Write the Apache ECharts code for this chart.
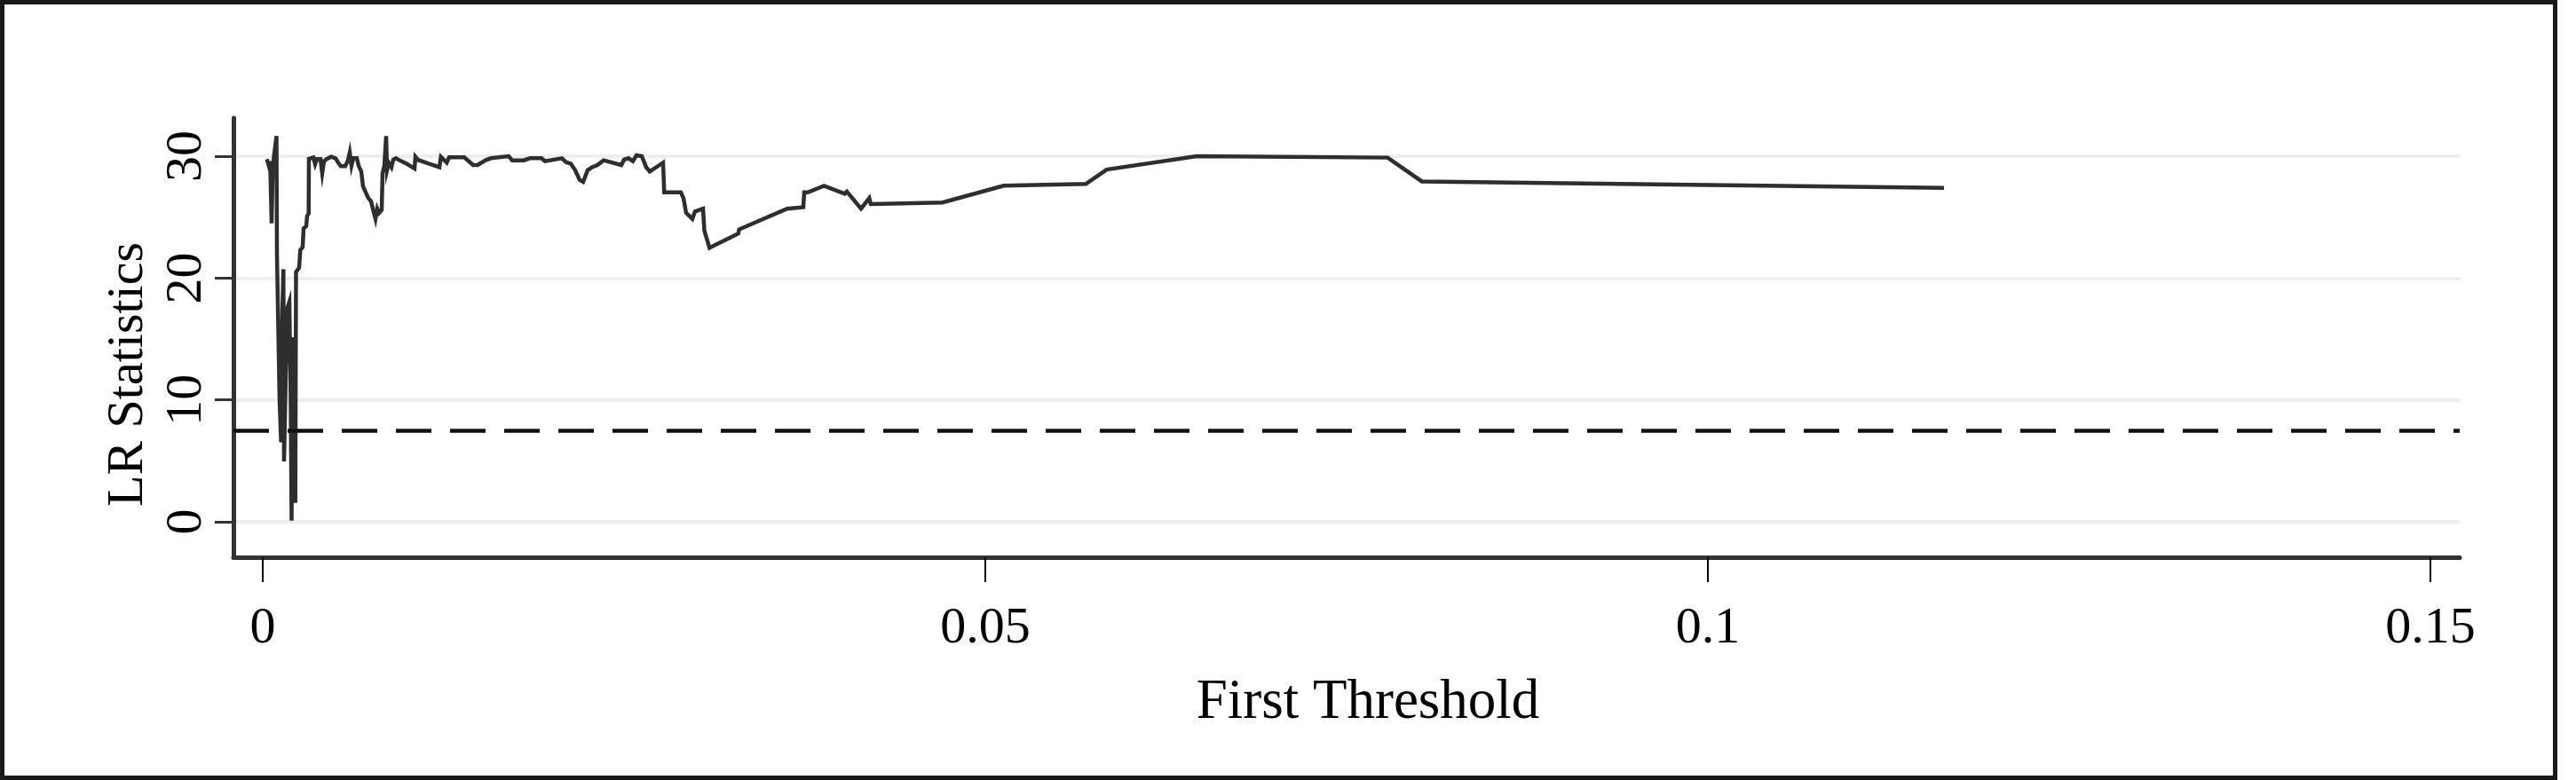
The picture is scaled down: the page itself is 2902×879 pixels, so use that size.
<!DOCTYPE html>
<html>
<head>
<meta charset="utf-8">
<script src="https://cdn.jsdelivr.net/npm/echarts@6/dist/echarts.min.js"></script>
<style>
html,body{margin:0;padding:0;background:#fff;}
#chart{width:2902px;height:879px;}
</style>
</head>
<body>
<div id="chart"></div>
<script>
// First threshold candidates (x) and LR statistics (y)
const thresholds = [
  0.000289, 0.000448, 0.000510, 0.000614, 0.000694, 0.000952, 0.000983, 0.001063, 0.001167, 0.001271,
  0.001351, 0.001431, 0.001474, 0.001597, 0.001720, 0.001843, 0.001935, 0.001996, 0.002088, 0.002181,
  0.002254, 0.002303, 0.002518, 0.002598, 0.002764, 0.002826, 0.003010, 0.003071, 0.003176, 0.003194,
  0.003501, 0.003624, 0.003747, 0.003993, 0.004115, 0.004238, 0.004423, 0.004730, 0.005037, 0.005221,
  0.005405, 0.005713, 0.005897, 0.006020, 0.006143, 0.006265, 0.006511, 0.006634, 0.006818, 0.006941,
  0.007125, 0.007310, 0.007494, 0.007617, 0.007801, 0.007924, 0.008047, 0.008231, 0.008292, 0.008415,
  0.008538, 0.008600, 0.008722, 0.008907, 0.009029, 0.009214, 0.009582, 0.010012, 0.010504, 0.010565,
  0.010749, 0.011486, 0.012224, 0.012328, 0.012734, 0.012899, 0.013943, 0.014558, 0.014865, 0.015418,
  0.015786, 0.017015, 0.017260, 0.018059, 0.018489, 0.019287, 0.019533, 0.020700, 0.021007, 0.021314,
  0.021622, 0.021929, 0.022174, 0.022482, 0.022789, 0.023157, 0.023587, 0.024816, 0.025000, 0.025307,
  0.025614, 0.025860, 0.026229, 0.026536, 0.026781, 0.027703, 0.027783, 0.028931, 0.029115, 0.029300,
  0.029730, 0.029914, 0.030467, 0.030559, 0.030915, 0.032905, 0.032967, 0.036284, 0.037408, 0.037469,
  0.037715, 0.038839, 0.040277, 0.040418, 0.041400, 0.041972, 0.042076, 0.047033, 0.051272, 0.056960,
  0.058397, 0.064638, 0.077844, 0.080203, 0.116339
];
const lrStats = [
  29.77, 29.10, 29.60, 24.50, 29.20, 31.66, 21.94, 16.60, 9.80, 6.53,
  17.10, 20.73, 4.95, 12.20, 17.60, 18.06, 9.80, 0.10, 15.15, 9.80,
  1.55, 20.50, 20.85, 22.30, 22.55, 24.08, 24.26, 25.10, 25.30, 29.80,
  29.90, 29.35, 29.77, 29.77, 28.60, 29.60, 29.77, 29.96, 29.84, 29.48,
  29.18, 29.18, 29.67, 30.32, 29.23, 29.84, 29.84, 29.23, 28.75, 27.53,
  27.04, 26.56, 26.30, 25.70, 24.86, 25.70, 25.35, 25.60, 28.60, 29.23,
  31.66, 28.86, 29.47, 29.10, 29.72, 29.84, 29.60, 29.35, 29.00, 29.96,
  29.70, 29.40, 29.10, 29.96, 29.48, 29.92, 29.92, 29.28, 29.28, 29.67,
  29.84, 30.00, 29.67, 29.67, 29.84, 29.84, 29.60, 29.84, 29.50, 29.40,
  28.86, 28.06, 27.90, 28.86, 29.10, 29.28, 29.67, 29.28, 29.72, 29.84,
  29.60, 30.08, 30.00, 29.10, 28.75, 29.48, 27.04, 27.04, 26.56, 25.35,
  24.86, 25.47, 25.70, 23.90, 22.48, 23.65, 24.00, 25.70, 25.83, 27.04,
  27.04, 27.58, 26.93, 27.10, 25.70, 26.56, 26.07, 26.20, 27.58, 27.73,
  28.91, 30.00, 29.89, 27.94, 27.41
];
const criticalValue = 7.45;
const xTickValues = [0, 0.05, 0.1, 0.15];
const xTickLabels = ['0', '0.05', '0.1', '0.15'];
const yTickValues = [0, 10, 20, 30];
const yTickLabels = ['0', '10', '20', '30'];

const seriesData = thresholds.map((t, i) => [t, lrStats[i]]);
const FONT = '"Liberation Serif", "Times New Roman", serif';

const chart = echarts.init(document.getElementById('chart'), null, {renderer: 'canvas'});
chart.setOption({
  animation: false,
  backgroundColor: '#ffffff',
  grid: {left: 263, right: 131, top: 133, bottom: 251, containLabel: false},
  xAxis: {
    type: 'value',
    min: -0.002027,
    max: 0.15203,
    name: 'First Threshold',
    nameLocation: 'middle',
    nameGap: 133,
    nameTextStyle: {fontFamily: FONT, fontSize: 63, color: '#000', padding: [0, 0, 0, 48]},
    axisLine: {show: true, onZero: false, lineStyle: {color: '#333', width: 5}},
    axisTick: {show: true, length: 28, customValues: xTickValues, lineStyle: {color: '#000', width: 2}},
    axisLabel: {
      show: true, margin: 52, customValues: xTickValues,
      fontFamily: FONT, fontSize: 58, color: '#000',
      formatter: v => { const i = xTickValues.findIndex(t => Math.abs(t - v) < 1e-9); return i >= 0 ? xTickLabels[i] : ''; }
    },
    splitLine: {show: false}
  },
  yAxis: {
    type: 'value',
    min: -2.913,
    max: 33.14,
    name: 'LR Statistics',
    nameLocation: 'middle',
    nameRotate: 90,
    nameGap: 86,
    nameTextStyle: {fontFamily: FONT, fontSize: 58, color: '#000', padding: [0, 83, 0, 0]},
    axisLine: {show: true, onZero: false, lineStyle: {color: '#333', width: 5}},
    axisTick: {show: true, length: 21, customValues: yTickValues, lineStyle: {color: '#333', width: 3}},
    axisLabel: {
      show: true, margin: 23, rotate: 90, customValues: yTickValues,
      fontFamily: FONT, fontSize: 58, color: '#000',
      formatter: v => { const i = yTickValues.findIndex(t => Math.abs(t - v) < 1e-9); return i >= 0 ? yTickLabels[i] : ''; }
    },
    splitLine: {show: true, lineStyle: {color: '#eeeeee', width: 4}}
  },
  series: [{
    type: 'line',
    data: seriesData,
    showSymbol: false,
    symbol: 'none',
    lineStyle: {color: '#2e2e2e', width: 4.5, join: 'miter'},
    z: 3,
    markLine: {
      silent: true,
      symbol: ['none', 'none'],
      label: {show: false},
      lineStyle: {color: '#111111', width: 4.5, type: [40, 21]},
      data: [{yAxis: criticalValue}]
    }
  }],
  graphic: [{
    type: 'rect',
    shape: {x: 2.5, y: 2.5, width: 2876, height: 874},
    style: {fill: 'none', stroke: '#1a1a1a', lineWidth: 5},
    silent: true,
    z: 100
  }]
});
</script>
</body>
</html>
